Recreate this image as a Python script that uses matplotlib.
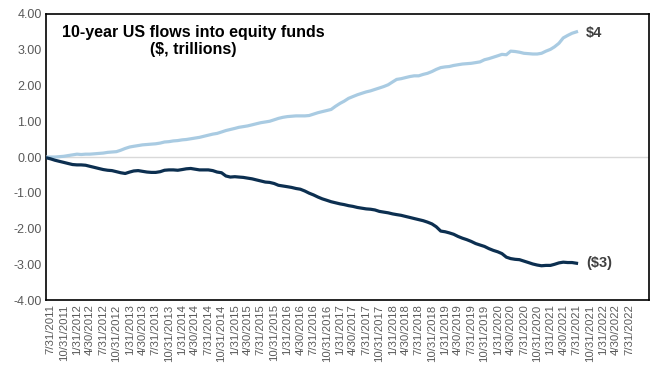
import matplotlib
matplotlib.use("Agg")
import matplotlib.pyplot as plt
import pandas as pd

plt.rcParams['font.family'] = ['Liberation Sans', 'DejaVu Sans']

# month-end dates, 6/30/2011 .. 7/31/2021
dates = pd.date_range('2011-06-30', periods=122, freq='ME')

# cumulative flows, $ trillions
passive = [0.00, 0.00, 0.00, 0.01, 0.02, 0.04, 0.06, 0.08, 0.07, 0.08,
           0.08, 0.09, 0.10, 0.11, 0.13, 0.14, 0.15, 0.19, 0.24, 0.28,
           0.30, 0.32, 0.34, 0.35, 0.36, 0.37, 0.39, 0.42, 0.43, 0.45,
           0.46, 0.48, 0.49, 0.51, 0.53, 0.55, 0.58, 0.61, 0.64, 0.66,
           0.70, 0.74, 0.77, 0.80, 0.83, 0.85, 0.87, 0.90, 0.93, 0.96,
           0.98, 1.00, 1.04, 1.08, 1.11, 1.13, 1.14, 1.15, 1.15, 1.15,
           1.16, 1.20, 1.24, 1.27, 1.30, 1.33, 1.42, 1.50, 1.56, 1.64,
           1.69, 1.74, 1.78, 1.82, 1.85, 1.89, 1.93, 1.97, 2.02, 2.10,
           2.17, 2.19, 2.22, 2.25, 2.27, 2.27, 2.31, 2.34, 2.39, 2.45,
           2.50, 2.52, 2.53, 2.56, 2.58, 2.60, 2.61, 2.62, 2.64, 2.66,
           2.72, 2.75, 2.79, 2.83, 2.87, 2.86, 2.96, 2.95, 2.93, 2.90,
           2.89, 2.88, 2.88, 2.90, 2.96, 3.01, 3.08, 3.18, 3.33, 3.40,
           3.46, 3.50]

active = [-0.02, -0.05, -0.09, -0.12, -0.15, -0.18, -0.21, -0.22, -0.22, -0.23,
          -0.26, -0.29, -0.32, -0.35, -0.37, -0.38, -0.41, -0.44, -0.46, -0.42,
          -0.39, -0.38, -0.40, -0.42, -0.43, -0.43, -0.41, -0.37, -0.36, -0.36,
          -0.37, -0.35, -0.33, -0.32, -0.34, -0.36, -0.36, -0.36, -0.38, -0.42,
          -0.44, -0.53, -0.56, -0.55, -0.56, -0.57, -0.59, -0.61, -0.64, -0.67,
          -0.70, -0.71, -0.74, -0.79, -0.81, -0.83, -0.85, -0.88, -0.90, -0.95,
          -1.01, -1.06, -1.12, -1.17, -1.21, -1.25, -1.28, -1.31, -1.33, -1.36,
          -1.38, -1.41, -1.43, -1.45, -1.46, -1.48, -1.52, -1.54, -1.56, -1.59,
          -1.61, -1.63, -1.66, -1.69, -1.72, -1.75, -1.78, -1.82, -1.87, -1.95,
          -2.07, -2.09, -2.12, -2.16, -2.22, -2.27, -2.31, -2.36, -2.42, -2.46,
          -2.50, -2.56, -2.61, -2.65, -2.70, -2.80, -2.84, -2.86, -2.87, -2.91,
          -2.95, -2.99, -3.02, -3.04, -3.03, -3.03, -3.00, -2.96, -2.94, -2.95,
          -2.95, -2.97]

tick_dates = pd.date_range('2011-07-31', '2022-07-31', freq='3ME')
tick_labels = [f"{d.month}/{d.day}/{d.year}" for d in tick_dates]
y_ticks = [-4, -3, -2, -1, 0, 1, 2, 3, 4]

fig = plt.figure(figsize=(6.63, 3.77), dpi=100)
ax = fig.add_axes([0.0694, 0.204, 0.9096, 0.759])

ax.axhline(0, color='#d9d9d9', lw=1, zorder=1)
ax.plot(dates, passive, color='#a9cbe2', lw=2.3, zorder=3)
ax.plot(dates, active, color='#0c2f50', lw=2.3, zorder=3)

ax.set_xlim(pd.Timestamp('2011-06-30'), pd.Timestamp('2022-12-17'))
ax.set_ylim(-4, 4)
ax.set_xticks(tick_dates)
ax.set_xticklabels(tick_labels, rotation=90, fontsize=8.2, color='#595959')
ax.set_yticks(y_ticks)
ax.set_yticklabels([f"{v:.2f}" for v in y_ticks], fontsize=9, color='#595959')
ax.tick_params(axis='both', length=0, pad=3)

for s in ax.spines.values():
    s.set_color('black')
    s.set_linewidth(1.2)

fig.text(193 / 663, 1 - 41 / 377, "10-year US flows into equity funds\n($, trillions)",
         ha='center', va='center', fontsize=11.5,
         fontweight='bold', color='black', linespacing=1.1)
ax.text(dates[-1] + pd.Timedelta(days=65), passive[-1] - 0.03, "$4",
        ha='left', va='center', fontsize=10.5, fontweight='bold', color='#404040')
ax.text(dates[-1] + pd.Timedelta(days=65), active[-1], "($3)",
        ha='left', va='center', fontsize=10.5, fontweight='bold', color='#404040')

fig.savefig('out.png', dpi=100)
